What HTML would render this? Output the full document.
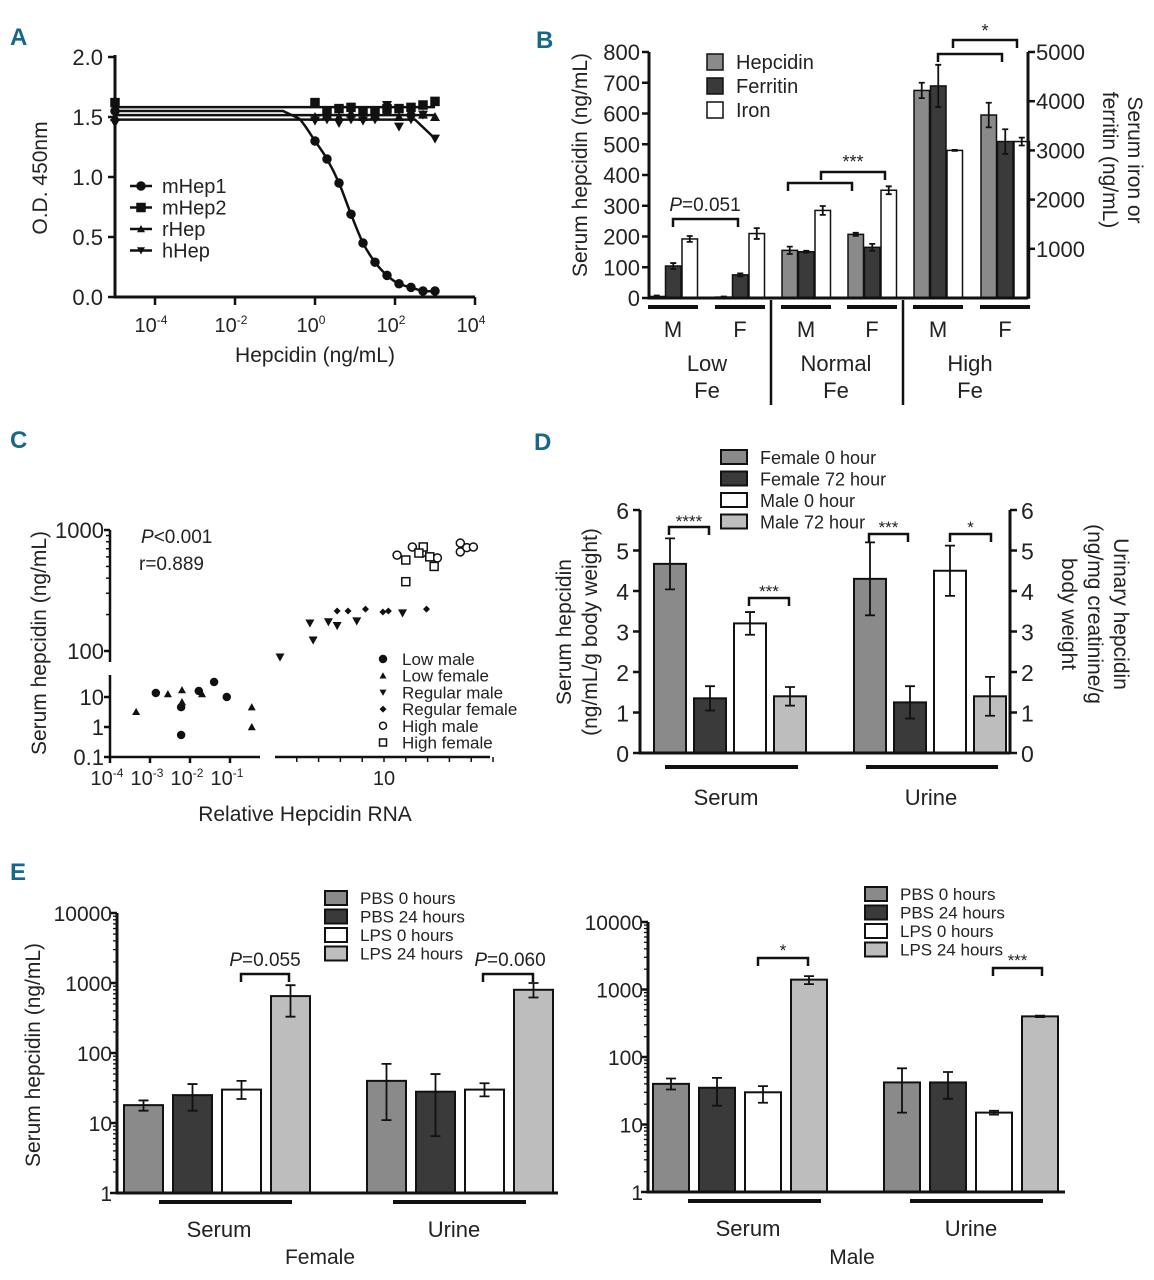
<!DOCTYPE html>
<html><head><meta charset="utf-8"><style>
html,body{margin:0;padding:0;background:#fff}
svg{display:block}
text{font-family:"Liberation Sans Narrow","Liberation Sans",sans-serif;fill:#222}
.pl{font-family:"Liberation Sans",sans-serif;font-weight:bold;fill:#16678a;font-size:24px}
</style></head><body>
<svg id="fig" width="1154" height="1280" viewBox="0 0 1154 1280" xmlns="http://www.w3.org/2000/svg">
<text class="pl" x="10" y="45">A</text>
<text class="pl" x="536" y="48">B</text>
<text class="pl" x="10" y="448">C</text>
<text class="pl" x="534" y="450">D</text>
<text class="pl" x="10" y="880">E</text>
<!-- Panel A titles -->
<text x="315" y="362" font-size="21" text-anchor="middle">Hepcidin (ng/mL)</text>
<text transform="translate(47,178) rotate(-90)" font-size="21" text-anchor="middle">O.D. 450nm</text>
<!-- Panel B titles -->
<text transform="translate(587,165) rotate(-90)" font-size="21" text-anchor="middle">Serum hepcidin (ng/mL)</text>
<text transform="translate(1128,160) rotate(90)" font-size="21" text-anchor="middle">Serum iron or</text>
<text transform="translate(1103,160) rotate(90)" font-size="21" text-anchor="middle">ferritin (ng/mL)</text>
<!-- Panel C titles -->
<text x="305" y="821" font-size="21" text-anchor="middle">Relative Hepcidin RNA</text>
<text transform="translate(46,643) rotate(-90)" font-size="21" text-anchor="middle">Serum hepcidin (ng/mL)</text>
<text x="141" y="543" font-size="19"><tspan font-style="italic">P</tspan>&lt;0.001</text>
<text x="139" y="570" font-size="19">r=0.889</text>
<!-- Panel D titles -->
<text transform="translate(571,632) rotate(-90)" font-size="21" text-anchor="middle">Serum hepcidin</text>
<text transform="translate(597,632) rotate(-90)" font-size="21" text-anchor="middle">(ng/mL/g body weight)</text>
<text transform="translate(1114,614) rotate(90)" font-size="21" text-anchor="middle">Urinary hepcidin</text>
<text transform="translate(1088,614) rotate(90)" font-size="21" text-anchor="middle">(ng/mg creatinine/g</text>
<text transform="translate(1062,614) rotate(90)" font-size="21" text-anchor="middle">body weight</text>
<!-- Panel E titles -->
<text transform="translate(40,1055) rotate(-90)" font-size="21" text-anchor="middle">Serum hepcidin (ng/mL)</text>
<text x="320" y="1264" font-size="21" text-anchor="middle">Female</text>
<text x="852" y="1264" font-size="21" text-anchor="middle">Male</text>
</svg>
<script>
const NS='http://www.w3.org/2000/svg';
const svg=document.getElementById('fig');
function mk(tag,a,p){const e=document.createElementNS(NS,tag);for(const k in a)e.setAttribute(k,a[k]);(p||svg).appendChild(e);return e;}
function tx(s,a){const e=mk('text',a);e.textContent=s;return e;}
const LW=2.5;

/* ===== Panel A data ===== */
const aLogConc=[-5,0,0.3,0.6,0.9,1.2,1.5,1.8,2.1,2.4,2.7,3.0];
const aMHep1=[1.55,1.30,1.15,0.95,0.69,0.45,0.29,0.18,0.11,0.08,0.05,0.05];
const aMHep2=[1.62,1.62,1.55,1.57,1.58,1.55,1.55,1.57,1.57,1.58,1.60,1.63];
const aRHep=[1.50,1.50,1.52,1.50,1.53,1.50,1.52,1.55,1.50,1.55,1.52,1.50];
const aHHep=[1.45,1.47,1.48,1.45,1.48,1.47,1.48,1.60,1.42,1.48,1.52,1.32];
const aYTicks=[0,0.5,1.0,1.5,2.0];
const aXTicks=[-4,-2,0,2,4];
const aSeriesNames=['mHep1','mHep2','rHep','hHep'];
/* ===== Panel B data ===== */
const bGroups=['Low M','Low F','Normal M','Normal F','High M','High F'];
const bHepcidin=[5,3,155,207,675,595];
const bHepcidinErr=[3,2,12,5,25,40];
const bFerritin=[650,470,940,1030,4310,3180];
const bFerritinErr=[60,30,20,70,430,250];
const bIron=[1200,1310,1780,2190,3000,3180];
const bIronErr=[60,110,90,80,10,80];
const bLeftTicks=[0,100,200,300,400,500,600,700,800];
const bRightTicks=[1000,2000,3000,4000,5000];
/* ===== Panel C data ===== */
const cLowMaleX=[0.0014,0.006,0.006,0.0166,0.04,0.083];
const cLowMaleY=[13.6,4.6,0.54,15.8,31.6,10];
const cLowFemaleX=[0.00045,0.0028,0.0063,0.0063,0.02,0.35,0.35];
const cLowFemaleY=[3.2,12.6,17,6.8,12.6,4.6,1];
const cRegMaleX=[0.46,3.2,3.5,4.9,5.7,7.5,11.7];
const cRegMaleY=[89,170,123,174,162,177,206];
const cRegFemaleX=[5.7,6.7,8.3,9.9,10.4,13.9];
const cRegFemaleY=[214,214,222,210,214,222];
const cHighMaleX=[11.2,12.6,13.5,14.9,17,17,17.6,18.2,14.2];
const cHighMaleY=[620,724,645,588,780,660,715,724,600];
const cHighFemaleX=[12,12,13.6,13.2,14.6,14.2];
const cHighFemaleY=[565,374,724,645,500,600];
/* ===== Panel D data ===== */
const dLegend=['Female 0 hour','Female 72 hour','Male 0 hour','Male 72 hour'];
const dSerum=[4.67,1.35,3.2,1.4];
const dSerumErr=[0.63,0.3,0.28,0.23];
const dUrine=[4.3,1.25,4.5,1.4];
const dUrineErr=[0.9,0.4,0.62,0.48];
const dTicks=[0,1,2,3,4,5,6];
/* ===== Panel E data ===== */
const eLegend=['PBS 0 hours','PBS 24 hours','LPS 0 hours','LPS 24 hours'];
const eFemSerum=[18,25,30,650], eFemSerumLo=[15,15,22,330], eFemSerumHi=[21,36,40,930];
const eFemUrine=[40,28,30,800], eFemUrineLo=[11,6.5,24,620], eFemUrineHi=[70,50,37,1000];
const eMaleSerum=[40,35,30,1400], eMaleSerumLo=[33,19,21,1200], eMaleSerumHi=[48,49,37,1580];
const eMaleUrine=[42,42,15,400], eMaleUrineLo=[15,24,14,390], eMaleUrineHi=[68,60,16,410];
const eTicks=[1,10,100,1000,10000];

/* ---------- helpers ---------- */
function errBar(x,y1,y2,cap,name){
  const l=mk('path',{d:`M${x} ${y1}V${y2}M${x-cap} ${y1}H${x+cap}M${x-cap} ${y2}H${x+cap}`,stroke:'#111','stroke-width':1.8,fill:'none'});
  
  
}
function bracket(x1,x2,y,label,ty,name,fs){
  const p=mk('path',{d:`M${x1} ${y+8}V${y}H${x2}V${y+8}`,stroke:'#111','stroke-width':2.5,fill:'none'});
  
  
  if(label){const t=tx(label,{x:(x1+x2)/2,y:ty,'font-size':fs||18,'text-anchor':'middle'});
  
  }
}
function line(d,w,name){const p=mk('path',{d:d,stroke:'#111','stroke-width':w||LW,fill:'none'});
  
  return p;}
function rtext(s,x,y,fs,anchor,name){const t=tx(s,{x:x,y:y,'font-size':fs,'text-anchor':anchor||'middle'});
  
  return t;}

/* ---------- Panel A ---------- */
const aX=v=>315+40*v, aY=v=>297-120*v;
line(`M115 55V297H475`,3,'a-axes');
aYTicks.forEach(v=>{line(`M108 ${aY(v)}H115`,2.5,'a-y-tick');rtext(v.toFixed(1),103,aY(v)+8,22,'end','a-y-tick-label');});
aXTicks.forEach(v=>{line(`M${aX(v)} 297V305`,2.5,'a-x-tick');
  const t=tx('10',{x:aX(v)-4,y:332,'font-size':20,'text-anchor':'middle'});
  
  
  const s=mk('tspan',{dy:-8,'font-size':12},t);s.textContent=String(v);});
function marker(type,x,y,r,name,fill){
  let e;
  if(type==='circle')e=mk('circle',{cx:x,cy:y,r:r,fill:fill||'#111',stroke:'#111','stroke-width':1.5});
  else if(type==='square')e=mk('rect',{x:x-r,y:y-r,width:2*r,height:2*r,fill:fill||'#111',stroke:'#111','stroke-width':1.5});
  else if(type==='up')e=mk('path',{d:`M${x} ${y-r}L${x+r} ${y+r*0.8}L${x-r} ${y+r*0.8}Z`,fill:'#111'});
  else if(type==='down')e=mk('path',{d:`M${x} ${y+r}L${x+r} ${y-r*0.8}L${x-r} ${y-r*0.8}Z`,fill:'#111'});
  else if(type==='diamond')e=mk('path',{d:`M${x} ${y-r}L${x+r} ${y}L${x} ${y+r}L${x-r} ${y}Z`,fill:'#111'});
  
  
  return e;
}
// mHep1 curve (smooth through points)
(function(){
  const pts=aLogConc.map((c,i)=>[aX(c),aY(aMHep1[i])]);
  let d=`M${pts[0][0]} ${pts[0][1]}H${aX(-0.8)}`;
  const P=[[aX(-0.8),pts[0][1]],[aX(-0.4),aY((aMHep1[0]*3+aMHep1[1])/4)]].concat(pts.slice(1));
  d+=`L${P[1][0]} ${P[1][1]}`;
  for(let i=1;i<P.length-1;i++){const p0=P[i-1],p1=P[i],p2=P[i+1],p3=P[i+2]||p2;
    d+=`C${p1[0]+(p2[0]-p0[0])/6} ${p1[1]+(p2[1]-p0[1])/6} ${p2[0]-(p3[0]-p1[0])/6} ${p2[1]-(p3[1]-p1[1])/6} ${p2[0]} ${p2[1]}`;}
  line(d,2.5,'mhep1-curve');
})();
function avg(a){return a.reduce((s,v)=>s+v,0)/a.length;}
[[aMHep2,'mhep2'],[aRHep,'rhep']].forEach(([arr,n])=>{const m=avg(arr);line(`M${aX(aLogConc[0])} ${aY(m)}H${aX(aLogConc[aLogConc.length-1])}`,2.5,n+'-curve');});
(function(){const m=avg(aHHep.slice(0,10));line(`M${aX(-5)} ${aY(m)}H${aX(2.5)}L${aX(3)} ${aY(aHHep[11])}`,2.5,'hhep-curve');})();
aLogConc.forEach((c,i)=>{
  marker('circle',aX(c),aY(aMHep1[i]),4,'mhep1-point');
  marker('square',aX(c),aY(aMHep2[i]),4,'mhep2-point');
  marker('up',aX(c),aY(aRHep[i]),5,'rhep-point');
  marker('down',aX(c),aY(aHHep[i]),5,'hhep-point');
});
aSeriesNames.forEach((n,i)=>{const y=186+i*21.5;
  line(`M130 ${y}H152`,2.5,'a-legend-line');
  marker(['circle','square','up','down'][i],141,y,4,'a-legend-marker');
  rtext(n,162,y+7,20,'start','a-legend-label');});

/* ---------- Panel B ---------- */
const bY=v=>298-v*(246/800), bY2=v=>298-v*(246/5000);
const bStart=[649,716,782,848,914,981], bW=15.5, bS=16.5;
const bCols=['#8a8a8a','#3a3a3a','#ffffff'];
bGroups.forEach((g,i)=>{
  const vals=[bY(bHepcidin[i]),bY2(bFerritin[i]),bY2(bIron[i])];
  const errs=[[bY(bHepcidin[i]-bHepcidinErr[i]),bY(bHepcidin[i]+bHepcidinErr[i])],[bY2(bFerritin[i]-bFerritinErr[i]),bY2(bFerritin[i]+bFerritinErr[i])],[bY2(bIron[i]-bIronErr[i]),bY2(bIron[i]+bIronErr[i])]];
  ['hepcidin','ferritin','iron'].forEach((s,j)=>{
    const x=bStart[i]+j*bS;
    const r=mk('rect',{x:x,y:vals[j],width:bW,height:298-vals[j],fill:bCols[j],stroke:'#111','stroke-width':1.5});
    
    
    errBar(x+bW/2,errs[j][0],errs[j][1],3,'error-bar-'+s);
  });
});
line('M649 52V298H1028M1028 52V298',3,'b-axes');
bLeftTicks.forEach(v=>{line(`M642 ${bY(v)}H649`,2.5,'b-y-tick');rtext(String(v),640,bY(v)+8,22,'end','b-y-tick-label');});
bRightTicks.forEach(v=>{line(`M1028 ${bY2(v)}H1035`,2.5,'b-y2-tick');rtext(String(v),1036,bY2(v)+8,22,'start','b-y2-tick-label');});
['M','F','M','F','M','F'].forEach((s,i)=>{const cx=bStart[i]+24;
  line(`M${cx-25} 307H${cx+25}`,4,'b-group-underline');
  rtext(s,cx,337,22,'middle','b-sex-label');});
line('M771 300V405M903 300V405',2.5,'b-group-separators');
[['Low',707],['Normal',836],['High',970]].forEach(([s,x])=>{rtext(s,x,371,22,'middle','b-iron-level-label');rtext('Fe',x,398,22,'middle','b-fe-label');});
['Hepcidin','Ferritin','Iron'].forEach((s,i)=>{const r=mk('rect',{x:707,y:54+i*24,width:16,height:16,fill:bCols[i],stroke:'#111','stroke-width':1.5});
  
  
  rtext(s,736,69+i*24,20,'start','b-legend-label');});
bracket(673,738,219,null,0,'b-bracket-low');
const pt=tx('',{x:705,y:211,'font-size':19,'text-anchor':'middle'});


pt.innerHTML='<tspan font-style="italic">P</tspan>=0.051';
bracket(788,852,183,null,0,'b-bracket-normal-1');
bracket(821,885,172,'***',168,'b-bracket-normal-2');
bracket(938,1002,54,null,0,'b-bracket-high-1');
bracket(953,1017,40,'*',37,'b-bracket-high-2');

/* ---------- Panel C ---------- */
const cLX=v=>110+40*(Math.log10(v)+4);
const cRX=v=>275+10.9*v;
const cUY=v=>651-121*(Math.log10(v)-2);
const cLY=v=>727-30*Math.log10(v);
const cX=v=>v<0.5&&v<0.45?cLX(v):cRX(v);
const cY=v=>v>=80?cUY(v):cLY(v);
line('M110 530V662M110 675V757H260M275 757H490',2.5,'c-axes');
[1000,100].forEach(v=>{line(`M104 ${cUY(v)}H110`,2.5,'c-y-tick');rtext(String(v),104,cUY(v)+8,22,'end','c-y-tick-label');});
for(let k=2;k<10;k++){line(`M106 ${cUY(100*k)}H110`,1.5,'c-y-minor-tick');}
[10,1,0.1].forEach(v=>{line(`M104 ${cLY(v)}H110`,2.5,'c-y-tick');rtext(String(v),104,cLY(v)+8,22,'end','c-y-tick-label');});
[-4,-3,-2,-1].forEach(v=>{line(`M${cLX(Math.pow(10,v))} 757V763`,2.5,'c-x-tick');
  const t=tx('10',{x:cLX(Math.pow(10,v))-3,y:785,'font-size':20,'text-anchor':'middle'});
  
  
  const s=mk('tspan',{dy:-8,'font-size':12},t);s.textContent=String(v);});
for(let v=2;v<=20;v+=2){line(`M${cRX(v)} 757V762`,1.5,'c-x-minor-tick');}
rtext('10',cRX(10),785,20,'middle','c-x-tick-label');
function cPlot(xs,ys,type,name,fill,r){xs.forEach((x,i)=>{const px=(type==='circle'&&fill==='#111'||type==='up')&&x<0.5?cLX(x):(x<0.45?cLX(x):cRX(x));marker(type,px,cY(ys[i]),r,name,fill);});}
cLowMaleX.forEach((x,i)=>marker('circle',cLX(x),cLY(cLowMaleY[i]),3.5,'c-low-male-point'));
cLowFemaleX.forEach((x,i)=>marker('up',cLX(x),cLY(cLowFemaleY[i]),4,'c-low-female-point'));
cRegMaleX.forEach((x,i)=>marker('down',cRX(x),cY(cRegMaleY[i]),4.5,'c-regular-male-point'));
cRegFemaleX.forEach((x,i)=>marker('diamond',cRX(x),cY(cRegFemaleY[i]),3.5,'c-regular-female-point'));
cHighMaleX.forEach((x,i)=>marker('circle',cRX(x),cUY(cHighMaleY[i]),4,'c-high-male-point','#fff'));
cHighFemaleX.forEach((x,i)=>marker('square',cRX(x),cUY(cHighFemaleY[i]),4,'c-high-female-point','#fff'));
['Low male','Low female','Regular male','Regular female','High male','High female'].forEach((s,i)=>{const y=659+i*16.7;
  marker(['circle','up','down','diamond','circle','square'][i],383,y,3.5,'c-legend-marker',i>=4?'#fff':'#111');
  rtext(s,402,y+6,17,'start','c-legend-label');});

/* ---------- Panel D ---------- */
const dY=v=>753-v*40.5;
const dCols=['#8a8a8a','#3a3a3a','#ffffff','#bdbdbd'];
[[dSerum,dSerumErr,654,'serum'],[dUrine,dUrineErr,854,'urine']].forEach(([vals,errs,x0,g])=>{
  vals.forEach((v,i)=>{const x=x0+i*40;
    const r=mk('rect',{x:x,y:dY(v),width:32,height:753-dY(v),fill:dCols[i],stroke:'#111','stroke-width':2});
    
    
    errBar(x+16,dY(v-errs[i]),dY(v+errs[i]),5,'error-bar-'+g);});
});
line('M640 510V753H1010M1010 510V753',3,'d-axes');
dTicks.forEach(v=>{line(`M633 ${dY(v)}H640`,2.5,'d-y-tick');rtext(String(v),629,dY(v)+9,23,'end','d-y-tick-label');
  line(`M1010 ${dY(v)}H1017`,2.5,'d-y2-tick');rtext(String(v),1021,dY(v)+9,23,'start','d-y2-tick-label');});
line('M665 767H798M866 767H998',4,'d-group-underlines');
rtext('Serum',726,805,22,'middle','d-serum-label');
rtext('Urine',931,805,22,'middle','d-urine-label');
dLegend.forEach((s,i)=>{const r=mk('rect',{x:721,y:450+i*21.5,width:26,height:14,fill:dCols[i],stroke:'#111','stroke-width':2});
  
  
  rtext(s,760,464+i*21.5,18,'start','d-legend-label');});
bracket(669,709,527,'****',527,'d-bracket-serum-female',17);
bracket(749,789,598,'***',597,'d-bracket-serum-male',17);
bracket(869,908,534,'***',533,'d-bracket-urine-female',17);
bracket(950,991,534,'*',533,'d-bracket-urine-male',17);

/* ---------- Panel E ---------- */
function ePanel(o){
  const Y=v=>o.y1-o.dec*Math.log10(v);
  [[o.serum,o.serumLo,o.serumHi,o.s0,'serum'],[o.urine,o.urineLo,o.urineHi,o.u0,'urine']].forEach(([vals,lo,hi,x0,g])=>{
    vals.forEach((v,i)=>{const x=x0+i*o.stride;
      const r=mk('rect',{x:x,y:Y(v),width:o.w,height:o.y1-Y(v),fill:dCols[i],stroke:'#111','stroke-width':2});
      
      
      errBar(x+o.w/2,Y(lo[i]),Y(hi[i]),5,o.p+'-error-bar-'+g);});
  });
  line(`M${o.ax} ${Y(10000)}V${o.y1}H${o.xend}`,3,o.p+'-axes');
  eTicks.forEach(v=>{line(`M${o.ax-7} ${Y(v)}H${o.ax}`,2.5,o.p+'-y-tick');rtext(String(v),o.ax-5,Y(v)+8,21,'end',o.p+'-y-tick-label');});
  for(let d=0;d<4;d++)for(let k=2;k<10;k++){line(`M${o.ax-4} ${Y(Math.pow(10,d)*k)}H${o.ax}`,1.3,o.p+'-y-minor-tick');}
  line(`M${o.s0+35} ${o.y1+9}H${o.s0+168}M${o.u0+26} ${o.y1+9}H${o.u0+159}`,4,o.p+'-group-underlines');
  rtext('Serum',o.s0+95,o.y1+44,22,'middle',o.p+'-serum-label');
  rtext('Urine',o.u0+87,o.y1+44,22,'middle',o.p+'-urine-label');
  eLegend.forEach((s,i)=>{const r=mk('rect',{x:o.lx,y:o.ly+i*18.5,width:22,height:14,fill:dCols[i],stroke:'#111','stroke-width':2});
    
    
    rtext(s,o.lx+35,o.ly+13+i*18.5,17,'start',o.p+'-legend-label');});
}
ePanel({p:'e-female',y1:1193,dec:70,ax:117,xend:558,s0:124,u0:367,stride:49,w:39,
  serum:eFemSerum,serumLo:eFemSerumLo,serumHi:eFemSerumHi,urine:eFemUrine,urineLo:eFemUrineLo,urineHi:eFemUrineHi,lx:325,ly:891});
ePanel({p:'e-male',y1:1192,dec:67.5,ax:648,xend:1065,s0:653,u0:884,stride:46,w:36,
  serum:eMaleSerum,serumLo:eMaleSerumLo,serumHi:eMaleSerumHi,urine:eMaleUrine,urineLo:eMaleUrineLo,urineHi:eMaleUrineHi,lx:865,ly:887});
bracket(241,289,974,null,0,'e-female-bracket-serum');
bracket(483,533,974,null,0,'e-female-bracket-urine');
[[265,'0.055'],[510,'0.060']].forEach(([x,v])=>{const t=tx('',{x:x,y:966,'font-size':19,'text-anchor':'middle'});
  
  
  t.innerHTML='<tspan font-style="italic">P</tspan>='+v;});
bracket(758,808,958,'*',956,'e-male-bracket-serum',17);
bracket(993,1042,968,'***',966,'e-male-bracket-urine',17);
</script>
</body></html>
